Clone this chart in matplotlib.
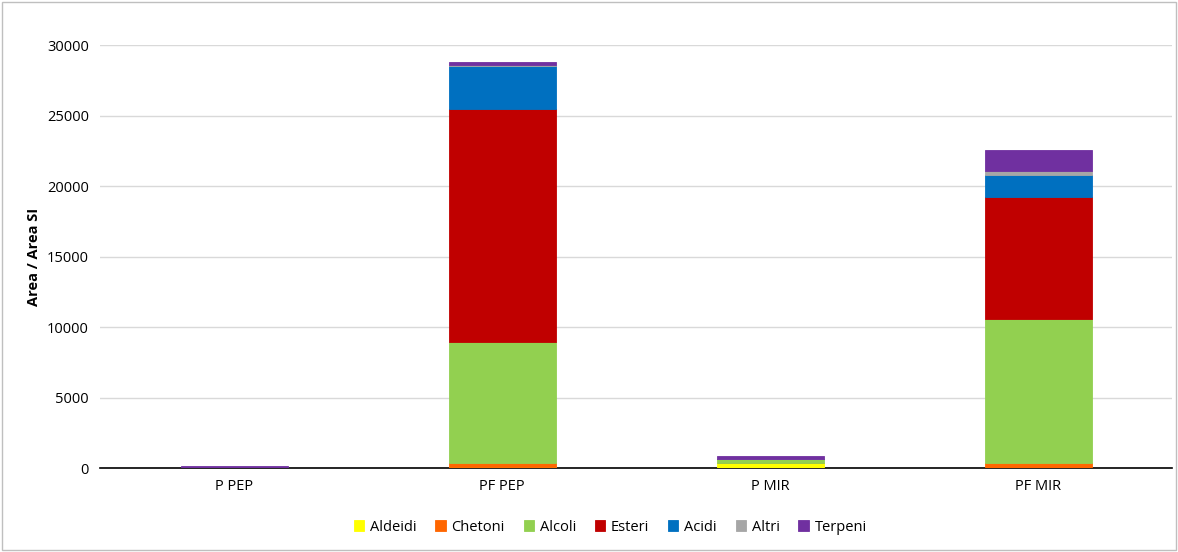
import matplotlib.pyplot as plt
import numpy as np

plt.rcParams['font.family'] = ['Open Sans', 'DejaVu Sans']

samples = ['P PEP', 'PF PEP', 'P MIR', 'PF MIR']
classes = ['Aldeidi', 'Chetoni', 'Alcoli', 'Esteri', 'Acidi', 'Altri', 'Terpeni']
colors = ['#FFFF00', '#FF6600', '#92D050', '#C00000', '#0070C0', '#A6A6A6', '#7030A0']

aldeidi = [5, 50, 330, 40]
chetoni = [5, 300, 30, 310]
alcoli = [5, 8600, 250, 10220]
esteri = [5, 16500, 20, 8650]
acidi = [5, 3050, 20, 1560]
altri = [5, 100, 10, 280]
terpeni = [100, 200, 190, 1490]
values = [aldeidi, chetoni, alcoli, esteri, acidi, altri, terpeni]

fig = plt.figure(figsize=(11.78, 5.52), dpi=100)
ax = fig.add_axes([0.085, 0.152, 0.91, 0.766])

x = np.arange(len(samples))
bottom = np.zeros(len(samples))
for name, vals, col in zip(classes, values, colors):
    ax.bar(x, vals, 0.4, bottom=bottom, color=col, label=name,
           edgecolor=col, linewidth=0.6, zorder=3)
    bottom += np.array(vals)

ax.set_xlim(-0.5, 3.5)
ax.set_ylim(0, 30000)
ax.set_yticks(range(0, 30001, 5000))
ax.set_xticks(x)
ax.set_xticklabels(samples)
ax.yaxis.grid(True, color='#D9D9D9', linewidth=1, zorder=0)
for s in ['top', 'right', 'left']:
    ax.spines[s].set_visible(False)
ax.spines['bottom'].set_color('black')
ax.spines['bottom'].set_linewidth(1.2)
ax.tick_params(length=0, labelsize=10.5, colors='black', pad=8)
ax.set_ylabel('Area / Area SI', fontsize=10.5, fontweight='bold', labelpad=4)

fig.legend(*ax.get_legend_handles_labels(), loc='center', bbox_to_anchor=(0.518, 0.045),
           ncol=7, frameon=False, fontsize=10.5, handlelength=0.7, handleheight=0.7,
           handletextpad=0.4, columnspacing=1.3)

fig.patches.append(plt.Rectangle((0.002, 0.004), 0.996, 0.992, transform=fig.transFigure,
                                 fill=False, edgecolor='#BFBFBF', linewidth=1))

fig.savefig('out.png', dpi=100)
